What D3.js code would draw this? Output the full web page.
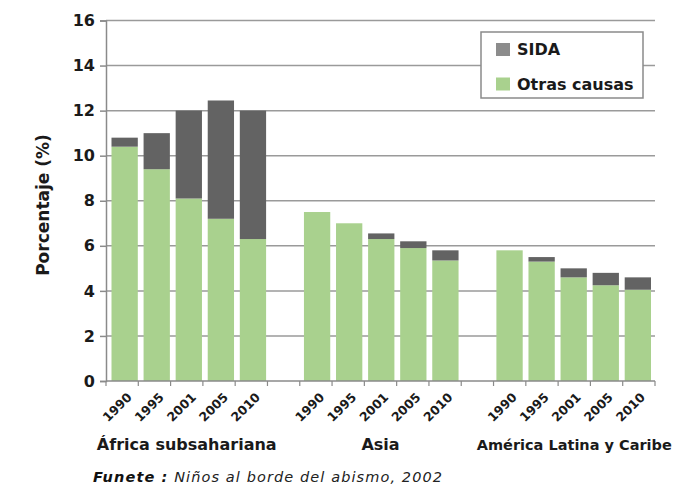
<!DOCTYPE html>
<html><head><meta charset="utf-8">
<script src="https://cdn.jsdelivr.net/npm/d3@7"></script>
<style>
html,body{margin:0;padding:0;background:#fff;}
svg text{font-family:"DejaVu Sans",sans-serif;}
</style></head>
<body><svg id="c" width="687" height="489"></svg>
<script>
const groups = ["África subsahariana", "Asia", "América Latina y Caribe"];
const years = ["1990", "1995", "2001", "2005", "2010"];
const africaOtras = [10.4, 9.4, 8.1, 7.2, 6.3];
const africaSida  = [0.4, 1.6, 3.9, 5.25, 5.7];
const asiaOtras   = [7.5, 7.0, 6.3, 5.9, 5.35];
const asiaSida    = [0, 0, 0.25, 0.3, 0.45];
const amerOtras   = [5.8, 5.3, 4.6, 4.25, 4.05];
const amerSida    = [0, 0.2, 0.4, 0.55, 0.55];
const yTicks = [0, 2, 4, 6, 8, 10, 12, 14, 16];
const seriesNames = ["SIDA", "Otras causas"];
const source = ["Funete :", " Niños al borde del abismo, 2002"];

const otrasByGroup = [africaOtras, asiaOtras, amerOtras];
const sidaByGroup = [africaSida, asiaSida, amerSida];

const GREEN = "#a9d18e", DARK = "#636363", LEGDARK = "#8c8c8c";
const svg = d3.select("#c");

// slots
const keys = [];
const rows = [];
groups.forEach((g, gi) => {
  years.forEach((yr, yi) => {
    const k = gi + "-" + yr;
    keys.push(k);
    rows.push({key: k, group: gi, year: yr, otras: otrasByGroup[gi][yi], sida: sidaByGroup[gi][yi]});
  });
  if (gi < groups.length - 1) keys.push("gap" + gi);
});

const pL = 106, pR = 655, pT = 20.5, pB = 381;
const x = d3.scaleBand().domain(keys).range([111.5, 651]).paddingInner(0.18).paddingOuter(0);
const slot = d3.scaleLinear().domain([0, keys.length]).range([pL, pR]);
const y = d3.scaleLinear().domain([0, 16]).range([pB, pT]);

// gridlines
svg.append("g").selectAll("line").data(yTicks.filter(d => d > 0)).join("line")
  .attr("x1", pL).attr("x2", pR)
  .attr("y1", d => y(d)).attr("y2", d => y(d))
  .attr("stroke", "#9a9a9a").attr("stroke-width", 1.5);

// bars
const barG = svg.append("g");
barG.selectAll("rect.o").data(rows).join("rect").attr("class", "o")
  .attr("x", d => x(d.key)).attr("width", x.bandwidth())
  .attr("y", d => y(d.otras)).attr("height", d => y(0) - y(d.otras))
  .attr("fill", GREEN);
barG.selectAll("rect.s").data(rows.filter(d => d.sida > 0)).join("rect").attr("class", "s")
  .attr("x", d => x(d.key)).attr("width", x.bandwidth())
  .attr("y", d => y(d.otras + d.sida)).attr("height", d => y(d.otras) - y(d.otras + d.sida))
  .attr("fill", DARK);

// y axis
const yAxis = svg.append("g").attr("transform", `translate(${pL},0)`)
  .call(d3.axisLeft(y).tickValues(yTicks).tickSize(6).tickPadding(5));
yAxis.select(".domain").attr("stroke", "#8a8a8a").attr("stroke-width", 1.5);
yAxis.selectAll(".tick line").attr("stroke", "#8a8a8a").attr("stroke-width", 1.5);
yAxis.selectAll(".tick text").attr("font-size", 16).attr("font-weight", "bold")
  .attr("fill", "#1a1a1a").style("font-family", '"DejaVu Sans", sans-serif');

// x axis line + ticks at slot boundaries
svg.append("line").attr("x1", pL).attr("x2", pR).attr("y1", pB).attr("y2", pB)
  .attr("stroke", "#8a8a8a").attr("stroke-width", 1.5);
svg.append("g").selectAll("line").data(d3.range(keys.length + 1)).join("line")
  .attr("x1", d => slot(d)).attr("x2", d => slot(d)).attr("y1", pB).attr("y2", pB + 5)
  .attr("stroke", "#8a8a8a").attr("stroke-width", 1.2);

// year labels
svg.append("g").selectAll("text").data(rows).join("text")
  .attr("transform", d => `translate(${x(d.key) + x.bandwidth() / 2 + 8},${398}) rotate(-45)`)
  .attr("text-anchor", "end").attr("font-size", 12.5).attr("font-weight", "bold")
  .attr("fill", "#1a1a1a").text(d => d.year);

// group labels
svg.append("g").selectAll("text").data(groups).join("text")
  .attr("x", (g, gi) => slot(gi * 6 + 2.5))
  .attr("y", 450).attr("text-anchor", "middle")
  .attr("font-size", (g, gi) => gi === 2 ? 14.5 : 16).attr("font-weight", "bold")
  .attr("fill", "#1a1a1a").text(g => g);

// y title
svg.append("text").attr("transform", "translate(49,205) rotate(-90)")
  .attr("text-anchor", "middle").attr("font-size", 17).attr("font-weight", "bold")
  .attr("fill", "#1a1a1a").text("Porcentaje (%)");

// legend
const lg = svg.append("g");
lg.append("rect").attr("x", 481).attr("y", 32).attr("width", 162).attr("height", 66)
  .attr("fill", "#fff").attr("stroke", "#8a8a8a").attr("stroke-width", 1.5);
const legColors = [LEGDARK, GREEN];
seriesNames.forEach((n, i) => {
  lg.append("rect").attr("x", 496).attr("y", 43 + i * 34.5).attr("width", 14).attr("height", 13)
    .attr("fill", legColors[i]);
  lg.append("text").attr("x", 517).attr("y", 55 + i * 34.5).attr("font-size", 16)
    .attr("font-weight", "bold").attr("fill", "#1a1a1a").text(n);
});

// source
const st = svg.append("text").attr("x", 93).attr("y", 482).attr("font-size", 14.5)
  .attr("font-style", "italic").attr("letter-spacing", 1.1).attr("fill", "#222");
st.append("tspan").attr("font-weight", "bold").attr("fill", "#111").text(source[0]);
st.append("tspan").text(source[1]);
</script></body></html>
